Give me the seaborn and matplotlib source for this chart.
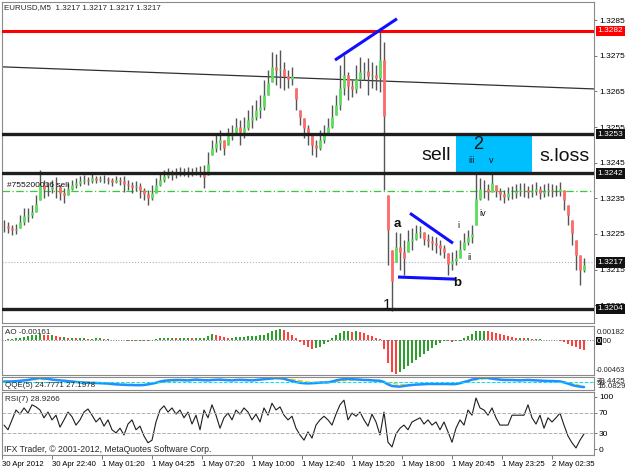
import numpy as np
import matplotlib
matplotlib.use("Agg")
import matplotlib.pyplot as plt
import matplotlib.transforms as mtrans
from matplotlib.patches import Rectangle
import seaborn as sns

# ---------------- data ----------------
highs = [1.32289, 1.32283, 1.32275, 1.32278, 1.32303, 1.32323, 1.32323, 1.32331, 1.32359, 1.32429,
         1.32401, 1.32396, 1.32401, 1.32410, 1.32387, 1.32379, 1.32393, 1.32401, 1.32407, 1.32412,
         1.32415, 1.32410, 1.32421, 1.32412, 1.32412, 1.32415, 1.32410, 1.32407, 1.32412, 1.32410,
         1.32412, 1.32401, 1.32396, 1.32398, 1.32393, 1.32379, 1.32373, 1.32387, 1.32407, 1.32418,
         1.32429, 1.32435, 1.32429, 1.32435, 1.32438, 1.32435, 1.32438, 1.32435, 1.32438, 1.32441,
         1.32443, 1.32480, 1.32514, 1.32528, 1.32542, 1.32514, 1.32547, 1.32556, 1.32575, 1.32570,
         1.32578, 1.32598, 1.32612, 1.32626, 1.32640, 1.32682, 1.32710, 1.32761, 1.32755, 1.32766,
         1.32733, 1.32710, 1.32719, 1.32660, 1.32598, 1.32575, 1.32556, 1.32528, 1.32514, 1.32542,
         1.32556, 1.32575, 1.32612, 1.32640, 1.32724, 1.32752, 1.32705, 1.32682, 1.32724, 1.32747,
         1.32733, 1.32744, 1.32733, 1.32724, 1.32828, 1.32789, 1.32359, 1.32204, 1.32255, 1.32252,
         1.32233, 1.32261, 1.32266, 1.32275, 1.32272, 1.32255, 1.32249, 1.32244, 1.32241, 1.32233,
         1.32219, 1.32196, 1.32199, 1.32204, 1.32233, 1.32252, 1.32261, 1.32275, 1.32421, 1.32407,
         1.32401, 1.32390, 1.32421, 1.32387, 1.32379, 1.32373, 1.32382, 1.32384, 1.32390, 1.32393,
         1.32393, 1.32384, 1.32390, 1.32396, 1.32384, 1.32390, 1.32393, 1.32390, 1.32387, 1.32396,
         1.32373, 1.32331, 1.32289, 1.32233, 1.32190, 1.32182]
lows = [1.32255, 1.32252, 1.32247, 1.32249, 1.32266, 1.32275, 1.32283, 1.32294, 1.32311, 1.32345,
        1.32351, 1.32356, 1.32365, 1.32351, 1.32345, 1.32337, 1.32359, 1.32373, 1.32379, 1.32384,
        1.32390, 1.32387, 1.32393, 1.32393, 1.32396, 1.32393, 1.32390, 1.32384, 1.32393, 1.32387,
        1.32367, 1.32373, 1.32365, 1.32370, 1.32351, 1.32345, 1.32331, 1.32345, 1.32365, 1.32384,
        1.32396, 1.32407, 1.32401, 1.32407, 1.32412, 1.32412, 1.32410, 1.32412, 1.32415, 1.32410,
        1.32379, 1.32415, 1.32471, 1.32480, 1.32485, 1.32471, 1.32500, 1.32514, 1.32528, 1.32500,
        1.32519, 1.32542, 1.32547, 1.32570, 1.32575, 1.32598, 1.32640, 1.32677, 1.32668, 1.32660,
        1.32654, 1.32660, 1.32668, 1.32598, 1.32556, 1.32519, 1.32500, 1.32471, 1.32466, 1.32485,
        1.32505, 1.32528, 1.32547, 1.32584, 1.32598, 1.32640, 1.32626, 1.32634, 1.32646, 1.32660,
        1.32682, 1.32640, 1.32660, 1.32654, 1.32648, 1.32373, 1.32162, 1.32033, 1.32171, 1.32148,
        1.32134, 1.32199, 1.32204, 1.32233, 1.32238, 1.32219, 1.32213, 1.32204, 1.32196, 1.32190,
        1.32182, 1.32134, 1.32148, 1.32162, 1.32182, 1.32204, 1.32219, 1.32224, 1.32275, 1.32345,
        1.32351, 1.32345, 1.32367, 1.32353, 1.32345, 1.32337, 1.32345, 1.32348, 1.32351, 1.32356,
        1.32353, 1.32351, 1.32353, 1.32359, 1.32348, 1.32353, 1.32356, 1.32353, 1.32356, 1.32356,
        1.32317, 1.32275, 1.32219, 1.32148, 1.32106, 1.32143]

ao = [0.0000, 0.0001, 0.0001, 0.0002, 0.0003, 0.0004, 0.0005, 0.0006, 0.0007,
      0.0008, 0.0007, 0.0006, 0.0006, 0.0005, 0.0004, 0.0004, 0.0003,
      0.0003, 0.0002, 0.0002, 0.0002, 0.0001, 0.0001, 0.0002, 0.0002, 0.0001, 0.0001, 0.0000, 0.0000, 0.0000, 0.0000,
      -0.0001, -0.0001, -0.0002, -0.0002, -0.0001, -0.0001, 0.0000, 0.0001,
      0.0002, 0.0003, 0.0003, 0.0003, 0.0002, 0.0002, 0.0003, 0.0003, 0.0002, 0.0002, 0.0003, 0.0003,
      0.0005, 0.0008, 0.0007, 0.0005, 0.0004, 0.0003,
      0.0003, 0.0004, 0.0004, 0.0004, 0.0005, 0.0005, 0.0005, 0.0006, 0.0007, 0.0009,
      0.0011, 0.0013, 0.0014, 0.0013, 0.0010, 0.0006, 0.0002,
      -0.0003, -0.0007, -0.0010, -0.0012, -0.0011, -0.0009, -0.0006, -0.0003,
      0.0002, 0.0006, 0.0009, 0.0011, 0.0011, 0.0010, 0.0011, 0.0010, 0.0009, 0.0007, 0.0005, 0.0003, 0.0001,
      -0.0012, -0.0030, -0.0042, -0.0045, -0.0043,
      -0.0039, -0.0035, -0.0031, -0.0027, -0.0023, -0.0019, -0.0015, -0.0011, -0.0007, -0.0004, -0.0002,
      -0.0002, -0.0003, -0.0002, -0.0001, 0.0002, 0.0005,
      0.0008, 0.0011, 0.0012, 0.0012, 0.0011, 0.0010, 0.0009,
      0.0008, 0.0006, 0.0005, 0.0004, 0.0003, 0.0003, 0.0002, 0.0002, 0.0001,
      0.0001, 0.0001, 0.0000, 0.0000, 0.0000, 0.0000, -0.0001,
      -0.0003, -0.0005, -0.0008, -0.0010, -0.0012, -0.0014]

qqe_fast = [52, 52, 53, 54, 56, 58, 60, 64, 68, 70, 68, 66, 62, 60, 58, 56, 54, 52, 50, 48, 47, 46, 45, 45, 44,
            43, 42, 40, 38, 37, 36, 35, 35, 34, 34, 35, 38, 42, 46,
            52, 56, 58, 59, 60, 60, 59, 58, 60, 62, 60, 59, 58, 60, 61, 62, 60, 59, 58, 60, 61,
            60, 59, 58, 60, 62, 64, 66, 68, 70, 69, 66, 60, 55, 50,
            46, 44, 43, 44, 45, 47, 48, 48,
            52, 58, 62, 64, 65, 64, 63, 62, 60, 60, 58, 57, 56,
            50, 38, 30, 28, 27,
            30, 33, 35, 37, 38, 39, 40, 40, 40, 40, 40, 40, 39, 40,
            44, 50, 55, 62, 66, 70, 71, 70, 67, 64,
            62, 60, 60, 60, 59, 58, 59, 60, 59, 58, 57, 56, 55, 55, 54, 53,
            48, 42, 35, 30, 27, 24.78]
qqe_slow = [55, 56, 62, 63, 57, 50, 47, 42, 38, 38, 50, 57, 58, 59, 59, 58, 62, 67, 63, 50,
            47, 55, 61, 59, 45, 36, 38, 40, 40, 55, 66, 64, 60, 58, 56, 52, 33]

rsi = [46, 37, 56, 75, 67, 79, 69, 85, 81, 75, 60, 71, 56, 65, 42, 56, 71, 62, 46, 56,
       71, 77, 65, 52, 60, 44, 56, 37, 31, 40, 27, 48, 56, 37, 44, 25, 12, 17, 52, 75,
       83, 71, 79, 67, 75, 60, 71, 48, 65, 37, 75, 60, 85, 65, 40, 60, 69, 56, 75, 67,
       79, 71, 56, 67, 52, 79, 65, 88, 75, 81, 65, 56, 63, 40, 27, 17, 33, 21, 46, 56,
       63, 56, 46, 67, 85, 94, 56, 69, 63, 71, 56, 44, 67, 52, 27, 71, 13, 4, 29, 40,
       46, 37, 52, 56, 60, 48, 56, 46, 52, 37, 52, 33, 13, 40, 56, 46, 75, 65, 98, 79,
       75, 65, 79, 60, 46, 46, 46, 65, 65, 65, 65, 85, 60, 48, 65, 40, 60, 52, 60, 69,
       46, 25, 12, 2, 17, 28.93]

time_labels = ["30 Apr 2012", "30 Apr 22:40", "1 May 01:20", "1 May 04:25", "1 May 07:20",
               "1 May 10:00", "1 May 12:40", "1 May 15:20", "1 May 18:00", "1 May 20:45",
               "1 May 23:25", "2 May 02:35"]
price_ticks = [1.3285, 1.3275, 1.3265, 1.3255, 1.3245, 1.3235, 1.3225, 1.3215, 1.3205]
resistance = 1.3282
black_levels = [1.3253, 1.3242, 1.3204]
order_price = 1.3237
bid = 1.3217
trend_x, trend_y = [-0.5, 147.5], [1.32719, 1.32657]
blue_top_x, blue_top_y = [82.75, 98.25], [1.32738, 1.32854]
blue_mid_x, blue_mid_y = [101.5, 112.25], [1.32308, 1.32224]
blue_low_x, blue_low_y = [98.5, 113.0], [1.32129, 1.32123]
zone_x = [113, 132]
wave_labels = [("a", 98.25, 1.32278), ("b", 113.25, 1.32112), ("1", 95.75, 1.32050)]
small_labels = [("i", 113.5, 1.32275), ("ii", 116.25, 1.32185), ("iv", 119.75, 1.32306),
                ("iii", 117.0, 1.32455), ("v", 121.75, 1.32455)]

# ---------------- figure ----------------
sns.set_style("white")
plt.rcParams['font.family'] = ['Liberation Sans', 'DejaVu Sans']
W, H = 625, 469
fig = plt.figure(figsize=(W / 100, H / 100), dpi=100)
fig.patch.set_facecolor("white")
RFS = 6.0  # right-hand scale labels


def panel(top, bottom):
    a = fig.add_axes([2 / W, 1 - bottom / H, 592 / W, (bottom - top) / H])
    a.set_xlim(-0.5, 147.5)
    for s in a.spines.values():
        s.set_color("#8a8a8a")
        s.set_linewidth(0.8)
    a.yaxis.tick_right()
    a.tick_params(axis="y", direction="out", length=2, width=0.6, colors="#606060",
                  labelsize=RFS, labelcolor="black", pad=1.5)
    a.tick_params(axis="x", bottom=False, labelbottom=False)
    a.set_xlabel("")
    a.set_ylabel("")
    return a


ax = panel(2, 323)
ax_ao = panel(326, 375)
ax_q = panel(377, 390)
ax_r = panel(392, 455)

n = len(highs)
idx = np.arange(n)
hi = np.array(highs)
lo = np.array(lows)
mid = (hi + lo) / 2
prev = np.r_[mid[0], mid[:-1]]
up = mid >= prev
b0 = np.clip(np.minimum(prev, mid), lo, hi)
b1 = np.clip(np.maximum(prev, mid), lo, hi)

# main chart
ax.set_ylim(1.32000, 1.32901)
ax.add_patch(Rectangle((zone_x[0], black_levels[1]), zone_x[1] - zone_x[0],
                       black_levels[0] - black_levels[1], facecolor="#00bfff",
                       edgecolor="none", zorder=1))
ax.axhline(bid, color="#a8b4c8", lw=0.8, ls=":", zorder=1)
ax.axhline(order_price, color="#33cc33", lw=0.9, dashes=(6, 2, 1, 2), zorder=1)
ax.plot(trend_x, trend_y, color="#303030", lw=0.9, zorder=1)
ax.vlines(idx, lo, hi, colors="#555555", lw=1.0, zorder=2)
ax.vlines(idx, b0, b1, colors=np.where(up, "#5ede5e", "#ff6a6a"), lw=2.0, zorder=3)
ax.axhline(resistance, color="#ff0000", lw=2.2, zorder=4)
for lv in black_levels:
    ax.axhline(lv, color="#1e1e1e", lw=2.4, zorder=4)
for xs, ys in [(blue_top_x, blue_top_y), (blue_mid_x, blue_mid_y), (blue_low_x, blue_low_y)]:
    ax.plot(xs, ys, color="#1010ff", lw=2.2, solid_capstyle="butt", zorder=5)

ax.set_yticks(price_ticks)
ax.set_yticklabels([f"{p:.4f}" for p in price_ticks])
ax.set_xticks([])

big = dict(color="#111111", zorder=6)
ax.text(111.75, 1.32469, "sell", fontsize=14, ha="right", va="center", **big)
ax.text(118.5, 1.32500, "2", fontsize=13, ha="center", va="center", **big)
ax.text(140.25, 1.32466, "s.loss", fontsize=14, ha="center", va="center", **big)
for t, x, y in wave_labels:
    ax.text(x, y, t, fontsize=11 if t == "1" else 9.5, ha="center", va="center",
            fontweight="bold" if t != "1" else "normal", **big)
for t, x, y in small_labels:
    ax.text(x, y, t, fontsize=6.5, ha="center", va="center", **big)

ax.text(0.75, order_price + 0.00016, "#755200016 sell", fontsize=6.0, ha="left",
        va="center", color="#111111", zorder=6)

tr = mtrans.blended_transform_factory(ax.transAxes, ax.transData)
for val, fc in [(resistance, "#ff0000"), (black_levels[0], "#111111"), (black_levels[1], "#111111"),
                (bid, "#111111"), (black_levels[2], "#111111")]:
    ax.text(1.006, val, f"{val:.4f}", transform=tr, fontsize=RFS, color="white", ha="left",
            va="center", clip_on=False, zorder=7,
            bbox=dict(boxstyle="square,pad=0.2", fc=fc, ec="none"))

fig.text(4 / W, 1 - 8 / H, "EURUSD,M5  1.3217 1.3217 1.3217 1.3217", fontsize=5.8,
         ha="left", va="center")

# AO panel
ao_arr = np.array(ao)
ao_prev = np.r_[ao_arr[0], ao_arr[:-1]]
ao_col = np.where(ao_arr >= ao_prev, "#2ca02c", "#ff4040")
ax_ao.bar(idx, ao_arr, width=0.55, color=ao_col, linewidth=0)
ax_ao.axhline(0, color="#707070", lw=0.7, ls=":")
ax_ao.set_ylim(-0.00463, 0.00182)
ax_ao.set_yticks([])
ax_ao.text(0.005, 0.86, "AO -0.00161", transform=ax_ao.transAxes, fontsize=5.8, va="center")
fig.text(597 / W, 1 - 332 / H, "0.00182", fontsize=5.7, va="center")
fig.text(597 / W, 1 - 341 / H, "0.00", fontsize=5.7, va="center")
fig.text(596.5 / W, 1 - 341 / H, "0", fontsize=5.7, va="center", color="white",
         bbox=dict(boxstyle="square,pad=0.1", fc="#111111", ec="none"))
fig.text(596 / W, 1 - 370 / H, "-0.00463", fontsize=5.3, va="center")

# QQE panel
sns.lineplot(x=np.arange(0, n, 4)[:len(qqe_slow)], y=qqe_slow, ax=ax_q, color="#e6d800",
             lw=1.0, dashes=False, linestyle="--")
sns.lineplot(x=idx, y=qqe_fast, ax=ax_q, color="#1e90ff", lw=1.8)
ax_q.axhline(50, color="#00e0ff", lw=0.7, ls="--")
ax_q.set_ylim(10, 75)
ax_q.set_yticks([])
ax_q.set_xlim(-0.5, 147.5)
ax_q.set_xlabel("")
ax_q.set_ylabel("")
ax_q.text(0.005, 0.35, "QQE(5) 24.7771 27.1978", transform=ax_q.transAxes, fontsize=5.8,
          va="center")
fig.text(597 / W, 1 - 381 / H, "70.4425", fontsize=5.7, va="center")
fig.text(597 / W, 1 - 383 / H, "50", fontsize=5.7, va="center")
fig.text(597 / W, 1 - 386.5 / H, "16.0829", fontsize=5.7, va="center")

# RSI panel
sns.lineplot(x=idx, y=rsi, ax=ax_r, color="#1e1e1e", lw=0.8)
for lv in (70, 30):
    ax_r.axhline(lv, color="#b0b0b0", lw=0.7, ls="--")
ax_r.set_ylim(-11.5, 109.6)
ax_r.set_xlim(-0.5, 147.5)
ax_r.set_yticks([0, 30, 70, 100])
ax_r.set_xlabel("")
ax_r.set_ylabel("")
ax_r.text(0.005, 0.88, "RSI(7) 28.9266", transform=ax_r.transAxes, fontsize=5.8, va="center")
ax_r.text(0.004, 0.09, "IFX Trader, \u00a9 2001-2012, MetaQuotes Software Corp.",
          transform=ax_r.transAxes, fontsize=6.2, va="center")

tick_pos = [12.5 * k - 0.5 for k in range(len(time_labels))]
ax_r.set_xticks(tick_pos)
ax_r.set_xticklabels(time_labels)
ax_r.tick_params(axis="x", bottom=True, labelbottom=True, direction="out", length=3,
                 width=0.6, colors="#606060", labelsize=5.6, labelcolor="black", pad=1.5)
for lab in ax_r.get_xticklabels():
    lab.set_horizontalalignment("left")

fig.savefig("out.png", dpi=100, facecolor="white")
